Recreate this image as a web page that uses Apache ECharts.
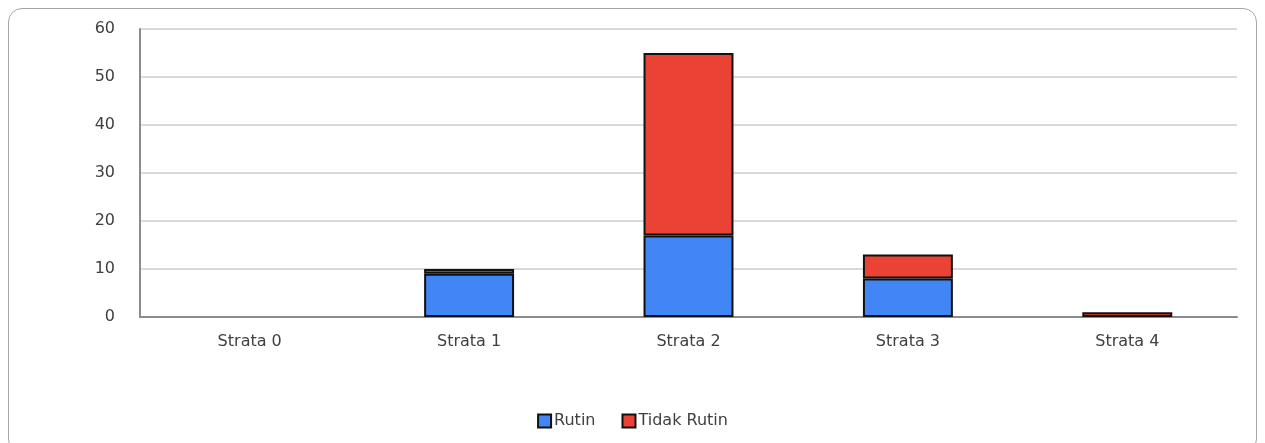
<!DOCTYPE html>
<html><head><meta charset="utf-8">
<script src="https://cdn.jsdelivr.net/npm/echarts@6/dist/echarts.min.js"></script>
<style>
html,body{margin:0;padding:0;background:#fff;}
#frame{position:absolute;left:8px;top:8px;width:1249px;height:445px;border:1.5px solid #a6a6a6;border-radius:14px;box-sizing:border-box;}
#c{position:absolute;left:0;top:0;width:1265px;height:443px;}
</style></head>
<body>
<div id="frame"></div>
<div id="c"></div>
<script>
const categories = ['Strata 0','Strata 1','Strata 2','Strata 3','Strata 4'];
const rutin = [0, 9, 17, 8, 0];
const tidakRutin = [0, 1, 38, 5, 1];
const seriesNames = ['Rutin','Tidak Rutin'];

const hideZero = arr => arr.map(v => v === 0 ? '-' : v);
const chart = echarts.init(document.getElementById('c'), null, {renderer:'canvas'});
const txt = {color:'#404040', fontFamily:'DejaVu Sans', fontSize:16};
chart.setOption({
  animation:false,
  grid:{left:140, right:28, top:29, bottom:126, containLabel:false},
  legend:{bottom:9, left:'center', icon:'rect', itemWidth:13, itemHeight:13, itemGap:26,
    textStyle:Object.assign({}, txt, {fontSize:16, padding:[0,0,0,-2]}), data:seriesNames},
  xAxis:{type:'category', data:categories,
    axisLine:{lineStyle:{color:'#8c8c8c', width:2}},
    axisTick:{show:false},
    axisLabel:Object.assign({margin:17}, txt)},
  yAxis:{type:'value', min:0, max:60, interval:10,
    axisLine:{show:true, lineStyle:{color:'#8c8c8c', width:2}},
    axisTick:{show:false},
    axisLabel:Object.assign({margin:25}, txt),
    splitLine:{lineStyle:{color:'#d9d9d9', width:2}}},
  series:[
    {name:'Rutin', type:'bar', stack:'s', data:hideZero(rutin), barWidth:'41%',
     itemStyle:{color:'#4285f4', borderColor:'#111', borderWidth:2}},
    {name:'Tidak Rutin', type:'bar', stack:'s', data:hideZero(tidakRutin), barWidth:'41%',
     itemStyle:{color:'#ea4335', borderColor:'#111', borderWidth:2}}
  ]
});
</script>
</body></html>
